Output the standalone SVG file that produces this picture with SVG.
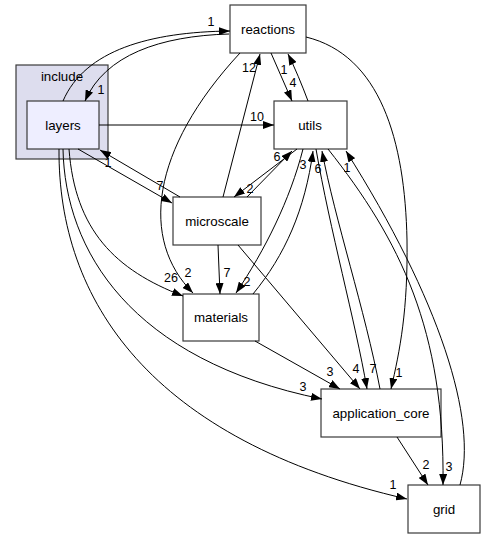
<svg xmlns="http://www.w3.org/2000/svg" width="485" height="539" viewBox="0 0 485 539">
<style>
.box{fill:#ffffff;stroke:#3a3a3a;stroke-width:1.2}
.nl{font-family:"Liberation Sans",Arial,sans-serif;font-size:13.33px;text-anchor:middle;fill:#000}
.el{font-family:"Liberation Sans",Arial,sans-serif;font-size:12.5px;text-anchor:middle;fill:#000}
.e{fill:none;stroke:#000;stroke-width:1;marker-end:url(#ah)}
</style>
<defs>
<marker id="ah" viewBox="0 0 11 8" refX="11" refY="4" markerWidth="11" markerHeight="8" markerUnits="userSpaceOnUse" orient="auto">
<path d="M0,0 L11,4 L0,8 z" fill="#000"/>
</marker>
</defs>
<rect width="485" height="539" fill="#ffffff"/>
<g id="cluster_include">
<rect x="16" y="65" width="92" height="94" fill="#ddddee" stroke="#3a3a3a" stroke-width="1.2"/>
<text class="nl" x="62" y="81">include</text>
</g>
<g id="node_layers">
<rect x="27" y="101" width="72" height="48" fill="#eeeeff" stroke="#3a3a3a" stroke-width="1.2"/>
<text class="nl" x="63" y="130">layers</text>
</g>
<g id="node_reactions">
<rect class="box" x="230" y="5" width="76" height="48"/>
<text class="nl" x="268" y="34">reactions</text>
</g>
<g id="node_utils">
<rect class="box" x="274" y="101" width="73" height="48"/>
<text class="nl" x="310" y="130">utils</text>
</g>
<g id="node_microscale">
<rect class="box" x="173" y="197" width="88" height="48"/>
<text class="nl" x="217" y="226">microscale</text>
</g>
<g id="node_materials">
<rect class="box" x="183" y="294" width="76" height="47"/>
<text class="nl" x="221" y="322">materials</text>
</g>
<g id="node_application_core">
<rect class="box" x="321" y="389" width="120" height="48"/>
<text class="nl" x="381" y="418">application_core</text>
</g>
<g id="node_grid">
<rect class="box" x="408" y="485" width="72" height="48"/>
<text class="nl" x="444" y="514">grid</text>
</g>
<g id="edges">
<path class="e" d="M63,101 C85,50 150,32 230,31"/>
<text class="el" x="211" y="26">1</text>
<path class="e" d="M229,34 C160,36 105,55 85,101"/>
<text class="el" x="101" y="94">1</text>
<path class="e" d="M99,125 L274,125"/>
<text class="el" x="257" y="121">10</text>
<path class="e" d="M78,149 L172,203"/>
<text class="el" x="160" y="190">7</text>
<path class="e" d="M180,197 L100,150"/>
<text class="el" x="108" y="167">1</text>
<path class="e" d="M69,149 C75,230 115,270 183,296"/>
<text class="el" x="171" y="282">26</text>
<path class="e" d="M63,149 C65,250 130,360 322,399"/>
<text class="el" x="303" y="391">3</text>
<path class="e" d="M59,149 C58,300 150,440 407,499"/>
<text class="el" x="393" y="489">1</text>
<path class="e" d="M240,53 C150,150 140,240 193,293"/>
<text class="el" x="188" y="277">2</text>
<path class="e" d="M271,53 L292,101"/>
<text class="el" x="293" y="87">4</text>
<path class="e" d="M308,101 C302,85 295,68 288,54"/>
<text class="el" x="284" y="74">1</text>
<path class="e" d="M306,37 C380,55 405,140 407,240 C408,310 400,350 391,389"/>
<text class="el" x="399" y="377">1</text>
<path class="e" d="M223,197 L260,54"/>
<text class="el" x="249" y="72">12</text>
<path class="e" d="M297,149 L234,197"/>
<text class="el" x="250" y="193">2</text>
<path class="e" d="M247,197 L292,151"/>
<text class="el" x="277" y="161">6</text>
<path class="e" d="M218,245 L220,294"/>
<text class="el" x="227" y="277">7</text>
<path class="e" d="M238,245 L360,389"/>
<text class="el" x="356" y="373">4</text>
<path class="e" d="M303,149 C290,200 265,250 236,293"/>
<text class="el" x="247" y="286">2</text>
<path class="e" d="M253,294 C285,255 305,210 313,151"/>
<text class="el" x="303" y="169">3</text>
<path class="e" d="M255,341 L340,389"/>
<text class="el" x="330" y="376">3</text>
<path class="e" d="M316,149 C330,230 355,320 367,389"/>
<text class="el" x="373" y="373">7</text>
<path class="e" d="M380,389 C365,310 335,220 322,151"/>
<text class="el" x="318" y="173">6</text>
<path class="e" d="M397,437 L428,485"/>
<text class="el" x="426" y="469">2</text>
<path class="e" d="M328,149 C400,240 445,330 443,485"/>
<text class="el" x="449" y="471">3</text>
<path class="e" d="M460,485 C478,420 440,300 346,151"/>
<text class="el" x="347" y="172">1</text>
</g>
</svg>
